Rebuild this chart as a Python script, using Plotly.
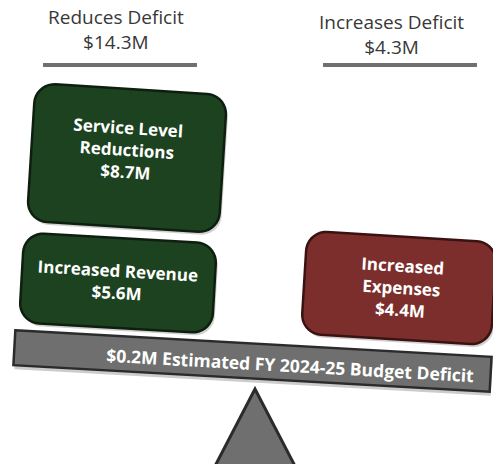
import numpy as np
import plotly.graph_objects as go

# ---- data ----
side_titles = ["Reduces Deficit", "Increases Deficit"]
side_totals = [14.3, 4.3]
box_labels = ["Service Level<br>Reductions", "Increased Revenue", "Increased<br>Expenses"]
box_values = [8.7, 5.6, 4.4]
box_side = ["reduce", "reduce", "increase"]
deficit_value = 0.2
deficit_label = "Estimated FY 2024-25 Budget Deficit"

# ---- layout / style ----
W, H = 493, 464
GREEN, GREEN_EDGE = "#1d4220", "#0e1f0f"
RED, RED_EDGE = "#7c2e2c", "#3a1211"
GRAY, GRAY_EDGE = "#6e6f6e", "#2b2b2b"
FONT = "Open Sans"

# box geometry: center x, center y, width, height, angle (deg)
box_geom = [(127, 158, 192, 138, 3.6), (118, 283, 193, 90, 3.3), (399, 288, 190, 103, 3.5)]
text_pos = [(127, 149), (117, 281), (401, 287)]
header_x = [116, 391]
header_y = [29, 34]
plank = (252.5, 361, 477, 35, 3.2)


def rot_rect_path(cx, cy, w, h, ang, r=0, n=10):
    pts = []
    hw, hh = w / 2, h / 2
    if r == 0:
        pts = [(-hw, -hh), (hw, -hh), (hw, hh), (-hw, hh)]
    else:
        corners = [(hw - r, -hh + r, -90), (hw - r, hh - r, 0), (-hw + r, hh - r, 90), (-hw + r, -hh + r, 180)]
        for ccx, ccy, a0 in corners:
            for t in np.linspace(a0, a0 + 90, n):
                pts.append((ccx + r * np.cos(np.radians(t)), ccy + r * np.sin(np.radians(t))))
    a = np.radians(ang)
    out = []
    for x, y in pts:
        out.append((cx + x * np.cos(a) - y * np.sin(a), cy + x * np.sin(a) + y * np.cos(a)))
    return "M " + " L ".join(f"{x:.2f},{y:.2f}" for x, y in out) + " Z"


fig = go.Figure()
shapes = []
annotations = []

# headers and underlines
line_x = [(43, 197), (323, 477)]
for i, (title, total) in enumerate(zip(side_titles, side_totals)):
    annotations.append(dict(
        x=header_x[i], y=header_y[i], text=f"{title}<br>${total}M",
        showarrow=False, font=dict(family=FONT, size=19, color="#383838"),
        xanchor="center", yanchor="middle"))
    shapes.append(dict(type="line", x0=line_x[i][0], x1=line_x[i][1], y0=65, y1=65,
                       line=dict(color=GRAY, width=4)))

# boxes
for (cx, cy, w, h, ang), label, val, side, (tx, ty) in zip(box_geom, box_labels, box_values, box_side, text_pos):
    fill, edge = (GREEN, GREEN_EDGE) if side == "reduce" else (RED, RED_EDGE)
    shapes.append(dict(type="path", path=rot_rect_path(cx + 2, cy + 3, w, h, ang, r=20),
                       fillcolor="rgba(0,0,0,0.18)", line=dict(width=0)))
    shapes.append(dict(type="path", path=rot_rect_path(cx, cy, w, h, ang, r=20),
                       fillcolor=fill, line=dict(color=edge, width=2.5)))
    annotations.append(dict(
        x=tx, y=ty, text=f"<b>{label}<br>${val}M</b>", textangle=ang,
        showarrow=False, font=dict(family=FONT, size=17, color="white"),
        xanchor="center", yanchor="middle"))

# fulcrum
shapes.append(dict(type="path", path="M 255,389 L 214,468 L 296,468 Z",
                   fillcolor=GRAY, line=dict(color=GRAY_EDGE, width=3)))

# plank
pcx, pcy, pw, ph, pang = plank
shapes.append(dict(type="path", path=rot_rect_path(pcx + 1, pcy + 4, pw, ph, pang),
                   fillcolor="rgba(0,0,0,0.2)", line=dict(width=0)))
shapes.append(dict(type="path", path=rot_rect_path(pcx, pcy, pw, ph, pang),
                   fillcolor=GRAY, line=dict(color=GRAY_EDGE, width=2.5)))
annotations.append(dict(
    x=290, y=365, text=f"<b>${deficit_value}M {deficit_label}</b>", textangle=pang,
    showarrow=False, font=dict(family=FONT, size=17.5, color="white"),
    xanchor="center", yanchor="middle"))

fig.update_layout(
    width=W, height=H,
    margin=dict(l=0, r=0, t=0, b=0),
    paper_bgcolor="white", plot_bgcolor="white",
    xaxis=dict(range=[0, W], visible=False, fixedrange=True),
    yaxis=dict(range=[H, 0], visible=False, fixedrange=True),
    shapes=shapes, annotations=annotations, showlegend=False,
)

fig.write_html("out.html", config={"displayModeBar": False},
               post_script="document.body.style.margin='0';")
